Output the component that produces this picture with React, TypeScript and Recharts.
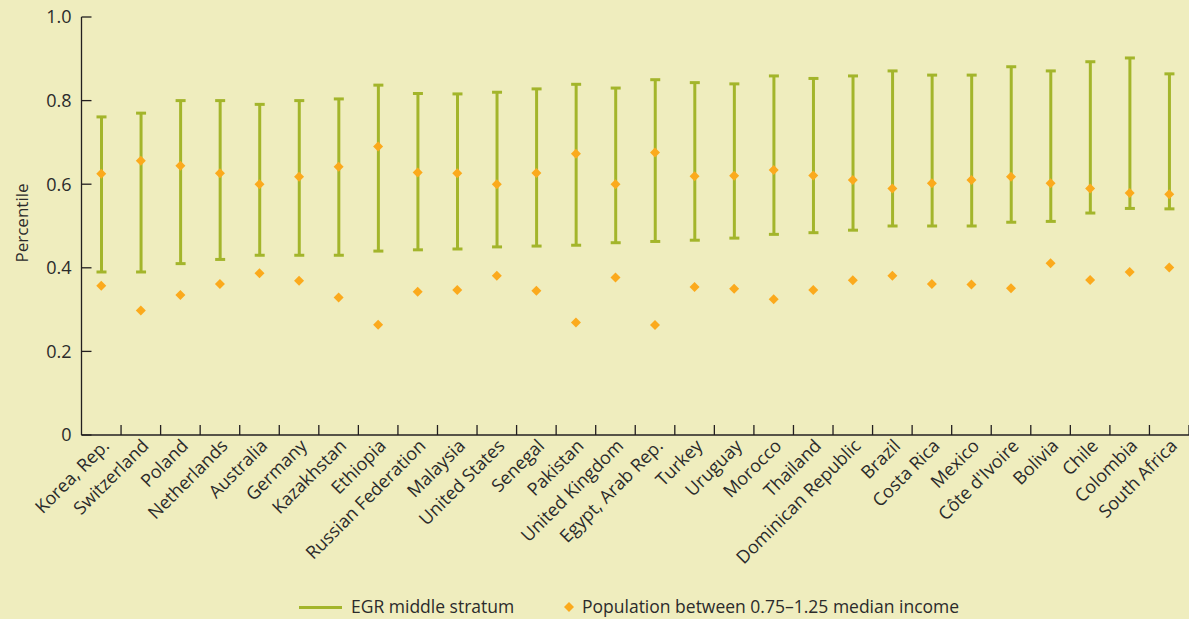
import React from "react";
import { ComposedChart, Bar, Line, XAxis, YAxis, Legend } from "recharts";

// Countries in the order they appear along the x axis
const countries = [
  "Korea, Rep.", "Switzerland", "Poland", "Netherlands", "Australia", "Germany",
  "Kazakhstan", "Ethiopia", "Russian Federation", "Malaysia", "United States",
  "Senegal", "Pakistan", "United Kingdom", "Egypt, Arab Rep.", "Turkey", "Uruguay",
  "Morocco", "Thailand", "Dominican Republic", "Brazil", "Costa Rica", "Mexico",
  "Côte d'Ivoire", "Bolivia", "Chile", "Colombia", "South Africa",
];

// EGR middle stratum: lower and upper percentile bounds
const egrLow = [
  0.39, 0.39, 0.41, 0.42, 0.43, 0.43, 0.43, 0.44, 0.443, 0.445, 0.45, 0.452, 0.454, 0.46,
  0.463, 0.466, 0.471, 0.48, 0.484, 0.49, 0.5, 0.5, 0.5, 0.509, 0.511, 0.531, 0.542, 0.541,
];
const egrHigh = [
  0.761, 0.77, 0.8, 0.8, 0.791, 0.8, 0.804, 0.837, 0.817, 0.816, 0.82, 0.828, 0.839, 0.83,
  0.85, 0.843, 0.84, 0.859, 0.853, 0.859, 0.871, 0.861, 0.861, 0.881, 0.871, 0.893, 0.902, 0.864,
];

// Population between 0.75-1.25 median income: upper and lower percentile
const popUpper = [
  0.625, 0.656, 0.644, 0.626, 0.6, 0.618, 0.642, 0.69, 0.628, 0.626, 0.6, 0.627, 0.673, 0.6,
  0.676, 0.619, 0.62, 0.634, 0.621, 0.61, 0.59, 0.602, 0.61, 0.618, 0.602, 0.59, 0.579, 0.576,
];
const popLower = [
  0.357, 0.298, 0.335, 0.361, 0.387, 0.369, 0.329, 0.264, 0.343, 0.347, 0.381, 0.345, 0.269, 0.377,
  0.263, 0.354, 0.35, 0.325, 0.347, 0.37, 0.381, 0.361, 0.36, 0.351, 0.411, 0.371, 0.39, 0.401,
];

const yTicks = [0, 0.2, 0.4, 0.6, 0.8, 1.0];

const data = countries.map((country, i) => ({
  country,
  egr: [egrLow[i], egrHigh[i]],
  popUpper: popUpper[i],
  popLower: popLower[i],
}));

const WIDTH = 1189;
const HEIGHT = 619;
const Y_AXIS_WIDTH = 81.5;
const BAND = (WIDTH - Y_AXIS_WIDTH) / countries.length;

const BG = "#efedbe";
const GREEN = "#a3b52b";
const ORANGE = "#fbaa1d";
const AXIS = "#231f20";
const TEXT = "#2b2b2b";
const FONT = "'Open Sans', sans-serif";

// vertical stick with caps for the EGR range
function RangeStick(props: any) {
  const { x, y, width, height } = props;
  if (x == null || y == null) return null;
  const cx = x + width / 2;
  return (
    <g stroke={GREEN} strokeWidth={3}>
      <line x1={cx} x2={cx} y1={y} y2={y + height} />
      <line x1={cx - 5} x2={cx + 5} y1={y} y2={y} />
      <line x1={cx - 5} x2={cx + 5} y1={y + height} y2={y + height} />
    </g>
  );
}

function Diamond(props: any) {
  const { cx, cy } = props;
  if (cx == null || cy == null) return null;
  const r = 5;
  return (
    <path
      d={`M${cx},${cy - r}L${cx + r},${cy}L${cx},${cy + r}L${cx - r},${cy}Z`}
      fill={ORANGE}
    />
  );
}

// category label rotated 45deg plus the inward tick at the band's right edge
function XTick(props: any) {
  const { x, y, payload } = props;
  const edge = x + BAND / 2;
  return (
    <g>
      <line x1={edge} x2={edge} y1={y} y2={y - 10} stroke={AXIS} strokeWidth={1.3} />
      <text
        transform={`translate(${x + 9},${y + 12}) rotate(-45)`}
        textAnchor="end"
        fontFamily={FONT}
        fontSize={18}
        fill={TEXT}
      >
        {payload.value}
      </text>
    </g>
  );
}

function YTick(props: any) {
  const { x, y, payload } = props;
  const v = payload.value;
  return (
    <g>
      <line x1={x} x2={x + 10} y1={y} y2={y} stroke={AXIS} strokeWidth={1.3} />
      <text
        x={x - 10}
        y={y}
        dy="0.35em"
        textAnchor="end"
        fontFamily={FONT}
        fontSize={18}
        fill={TEXT}
      >
        {v === 0 ? "0" : v.toFixed(1)}
      </text>
    </g>
  );
}

function LegendContent() {
  return (
    <div
      style={{
        position: "relative",
        height: 25,
        fontFamily: FONT,
        fontSize: 17.5,
        lineHeight: "25px",
        color: TEXT,
        whiteSpace: "nowrap",
      }}
    >
      <div style={{ position: "absolute", left: 299, top: 12, width: 43, height: 3, background: GREEN }} />
      <span style={{ position: "absolute", left: 351, top: 0 }}>EGR middle stratum</span>
      <svg style={{ position: "absolute", left: 563, top: 7 }} width={12} height={12}>
        <path d="M6,1L11,6L6,11L1,6Z" fill={ORANGE} />
      </svg>
      <span style={{ position: "absolute", left: 582, top: 0 }}>
        Population between 0.75–1.25 median income
      </span>
    </div>
  );
}

export default function App() {
  return (
    <div style={{ position: "absolute", left: 0, top: 0, width: WIDTH, height: HEIGHT, background: BG }}>
      <ComposedChart
        width={WIDTH}
        height={HEIGHT}
        data={data}
        margin={{ top: 17, right: 0, left: 0, bottom: 0 }}
      >
        <XAxis
          dataKey="country"
          interval={0}
          height={184}
          tickLine={false}
          tickSize={0}
          tickMargin={0}
          axisLine={{ stroke: AXIS, strokeWidth: 1.3 }}
          tick={<XTick />}
        />
        <YAxis
          type="number"
          domain={[0, 1]}
          ticks={yTicks}
          width={Y_AXIS_WIDTH}
          tickLine={false}
          tickSize={0}
          tickMargin={0}
          axisLine={{ stroke: AXIS, strokeWidth: 1.3 }}
          tick={<YTick />}
          label={{
            position: "insideLeft",
            content: () => (
              <text
                x={21}
                y={223}
                transform="rotate(-90 21 223)"
                textAnchor="middle"
                dominantBaseline="central"
                fontFamily={FONT}
                fontSize={17}
                fill={TEXT}
              >
                Percentile
              </text>
            ),
          }}
        />
        <Bar dataKey="egr" barSize={10} shape={<RangeStick />} isAnimationActive={false} legendType="line" />
        <Line
          dataKey="popUpper"
          stroke="none"
          dot={<Diamond />}
          activeDot={false}
          isAnimationActive={false}
          legendType="diamond"
        />
        <Line
          dataKey="popLower"
          stroke="none"
          dot={<Diamond />}
          activeDot={false}
          isAnimationActive={false}
          legendType="none"
        />
        <Legend
          layout="horizontal"
          verticalAlign="middle"
          wrapperStyle={{ top: 594, left: 0, width: WIDTH, height: 25 }}
          content={<LegendContent />}
        />
      </ComposedChart>
    </div>
  );
}
